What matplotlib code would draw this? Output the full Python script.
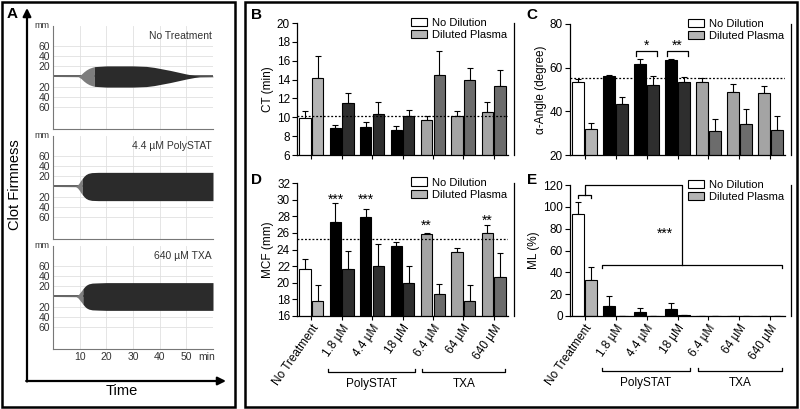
import numpy as np
import matplotlib
matplotlib.use('Agg')
import matplotlib.pyplot as plt
from matplotlib.patches import Rectangle, Patch
from matplotlib.transforms import blended_transform_factory

plt.rcParams['font.family'] = ['Liberation Sans', 'DejaVu Sans']

groups = ['No Treatment', '1.8 µM', '4.4 µM', '18 µM', '6.4 µM', '64 µM', '640 µM']
series = ['No Dilution', 'Diluted Plasma']
families = ['PolySTAT', 'TXA']

# B: CT (min)
ct_nd = [9.9, 8.85, 9.0, 8.7, 9.7, 10.1, 10.6]
ct_nd_err = [0.8, 0.35, 0.45, 0.4, 0.4, 0.6, 1.0]
ct_dp = [14.15, 11.5, 10.3, 10.15, 14.5, 14.0, 13.3]
ct_dp_err = [2.3, 1.05, 1.35, 0.65, 2.55, 1.2, 1.7]
ct_ref = 10.1

# C: alpha angle (degree)
ang_nd = [53.6, 56.2, 61.7, 63.5, 53.3, 49.0, 48.5]
ang_nd_err = [1.2, 0.4, 2.4, 0.3, 1.8, 3.4, 3.1]
ang_dp = [31.8, 43.4, 52.1, 53.6, 31.0, 34.2, 31.5]
ang_dp_err = [2.7, 3.3, 4.1, 2.0, 5.3, 6.7, 6.4]
ang_ref = 55.1

# D: MCF (mm)
mcf_nd = [21.7, 27.3, 27.9, 24.4, 25.9, 23.7, 26.0]
mcf_nd_err = [1.15, 2.3, 1.0, 0.5, 0.1, 0.5, 1.0]
mcf_dp = [17.8, 21.7, 22.0, 20.0, 18.65, 17.8, 20.7]
mcf_dp_err = [1.95, 2.1, 2.7, 2.0, 1.2, 1.95, 2.9]
mcf_ref = 25.25

# E: ML (%)
ml_nd = [93, 9.4, 3.6, 6.3, 0, 0, 0]
ml_nd_err = [11, 8.6, 3.4, 5.2, 0, 0, 0]
ml_dp = [33, 0, 0, 0.5, 0, 0, 0]
ml_dp_err = [12, 0, 0, 0, 0, 0, 0]

# A: ROTEM traces (time in min, half amplitude in mm)
nt_t_light = [0, 9.5, 10.5, 11.5, 12.5, 13.5, 14.5, 15.5]
nt_a_light = [0, 0.5, 4, 9, 13, 16, 18, 19.5]
nt_t_dark = [15.5, 20, 25, 30, 35, 38, 41, 44, 47, 50, 53, 55, 60]
nt_a_dark = [19.5, 21, 21, 21, 20, 18, 15, 12, 8.5, 5, 2, 0.8, 0.5]
ps_t_light = [0, 8.5, 9.2, 9.8, 10.4, 11.0]
ps_a_light = [0, 0.5, 3, 7, 12, 16]
ps_t_dark = [11.0, 11.6, 12.3, 13.2, 14.5, 17, 20, 60]
ps_a_dark = [16, 20, 23.5, 26, 27.5, 28, 28, 28]
tx_t_light = [0, 8.7, 9.4, 10.0, 10.6, 11.2]
tx_a_light = [0, 0.5, 3, 7, 11, 15]
tx_t_dark = [11.2, 11.8, 12.5, 13.4, 14.7, 17, 20, 60]
tx_a_dark = [15, 19, 22.5, 25, 26.5, 27, 27.5, 27.5]
trace_titles = ['No Treatment', '4.4 µM PolySTAT', '640 µM TXA']

nd_colors = ['white', 'black', 'black', 'black', '#a4a4a4', '#a4a4a4', '#a4a4a4']
dp_colors = ['#b4b4b4', '#2e2e2e', '#2e2e2e', '#2e2e2e', '#6c6c6c', '#6c6c6c', '#6c6c6c']

W, H = 800, 409
fig = plt.figure(figsize=(8, 4.09), dpi=100)


def box(l, t, r, b):
    return [l / W, 1 - b / H, (r - l) / W, (b - t) / H]


# overlay in pixel coordinates for frames, arrows and panel letters
ov = fig.add_axes([0, 0, 1, 1])
ov.set_xlim(0, W)
ov.set_ylim(H, 0)
ov.axis('off')
ov.add_patch(Rectangle((2, 2), 233, 405, fill=False, lw=1.8, ec='black'))
ov.add_patch(Rectangle((245, 2), 552, 405, fill=False, lw=1.8, ec='black'))
ov.annotate('', xy=(27, 8), xytext=(27, 381.5),
            arrowprops=dict(arrowstyle='-|>', lw=1.6, color='black', mutation_scale=12, shrinkA=0, shrinkB=0))
ov.annotate('', xy=(226, 381), xytext=(26.2, 381),
            arrowprops=dict(arrowstyle='-|>', lw=1.6, color='black', mutation_scale=12, shrinkA=0, shrinkB=0))
ov.text(15, 185, 'Clot Firmness', rotation=90, ha='center', va='center', fontsize=10.5)
ov.text(122, 391, 'Time', ha='center', va='center', fontsize=10.5)
for letter, (lx, ly) in zip('ABCDE', [(12, 14), (256, 15), (532, 15), (257, 180), (532, 180)]):
    ov.text(lx, ly, letter, ha='center', va='center', fontsize=11, fontweight='bold')

# panel A
traces = [(nt_t_light, nt_a_light, nt_t_dark, nt_a_dark),
          (ps_t_light, ps_a_light, ps_t_dark, ps_a_dark),
          (tx_t_light, tx_a_light, tx_t_dark, tx_a_dark)]
for i, (tl, al, td, ad) in enumerate(traces):
    top = 26 + i * 110
    ax = fig.add_axes(box(53, top, 213, top + 103))
    ax.set_xlim(0, 60)
    ax.set_ylim(-104, 100)
    for gx in [10, 20, 30, 40, 50]:
        ax.axvline(gx, color='#e0e0e0', lw=0.6, zorder=0)
    for gy in [60, 40, 20, -20, -40, -60]:
        ax.axhline(gy, color='#e0e0e0', lw=0.6, zorder=0)
    ax.plot([0, 60], [0, 0], color='#555555', lw=1.3, zorder=1)
    ax.fill_between(tl, -np.array(al), al, color='#7d7d7d', lw=0, zorder=2)
    ax.fill_between(td, -np.array(ad), ad, color='#2b2b2b', lw=0, zorder=2)
    ax.set_yticks([60, 40, 20, -20, -40, -60])
    ax.set_yticklabels(['60', '40', '20', '20', '40', '60'])
    ax.tick_params(length=0, labelsize=7.5, pad=2, colors='#333333')
    for s in ['top', 'right']:
        ax.spines[s].set_visible(False)
    for s in ['left', 'bottom']:
        ax.spines[s].set_color('#777777')
        ax.spines[s].set_linewidth(0.8)
    ax.text(-0.02, 1.0, 'mm', transform=ax.transAxes, ha='right', va='center', fontsize=6.5, color='#333333')
    ax.text(0.99, 0.95, trace_titles[i], transform=ax.transAxes, ha='right', va='top', fontsize=7.5, color='#333333')
    if i < 2:
        ax.set_xticks([])
    else:
        ax.set_xticks([10, 20, 30, 40, 50, 57.5])
        ax.set_xticklabels(['10', '20', '30', '40', '50', 'min'])


def bar_panel(ax, nd, nd_err, dp, dp_err, ylim, yticks, ylabel, ref, xlabels):
    x = np.arange(len(groups))
    w = 0.37
    ax.bar(x - 0.205, nd, w, color=nd_colors, edgecolor='black', linewidth=0.8, zorder=2)
    ax.bar(x + 0.205, dp, w, color=dp_colors, edgecolor='black', linewidth=0.8, zorder=2)
    ax.errorbar(x - 0.205, nd, yerr=[np.zeros(len(x)), nd_err], fmt='none', ecolor='black',
                elinewidth=0.8, capsize=2, capthick=0.8, zorder=1)
    ax.errorbar(x + 0.205, dp, yerr=[np.zeros(len(x)), dp_err], fmt='none', ecolor='black',
                elinewidth=0.8, capsize=2, capthick=0.8, zorder=1)
    if ref is not None:
        ax.axhline(ref, color='black', linestyle=(0, (1.5, 1.5)), lw=0.9, zorder=3)
    ax.set_xlim(-0.47, 6.47)
    ax.set_ylim(*ylim)
    ax.set_yticks(yticks)
    ax.set_ylabel(ylabel, fontsize=8.5, labelpad=2)
    ax.set_xticks(x)
    if xlabels:
        ax.set_xticklabels(groups, rotation=55, ha='right', rotation_mode='anchor', fontsize=8.5)
        tr = blended_transform_factory(ax.transData, ax.transAxes)
        for name, (x0, x1) in zip(families, [(0.55, 3.4), (3.65, 6.38)]):
            ax.plot([x0, x0, x1, x1], [-0.40, -0.42, -0.42, -0.40], transform=tr,
                    color='black', lw=0.9, clip_on=False)
            ax.text((x0 + x1) / 2, -0.51, name, transform=tr, ha='center', va='center', fontsize=8.5)
    else:
        ax.set_xticklabels([])
    ax.tick_params(direction='out', length=3.5, width=0.8, labelsize=8.5, pad=1.5)
    ax.tick_params(axis='x', length=3)
    ax.spines['top'].set_visible(False)
    ax.spines['right'].set_position(('outward', 4))
    for s in ['left', 'bottom', 'right']:
        ax.spines[s].set_linewidth(0.9)
    handles = [Patch(facecolor='white', edgecolor='black', linewidth=0.8),
               Patch(facecolor='#b4b4b4', edgecolor='black', linewidth=0.8)]
    ax.legend(handles, series, loc='upper right', bbox_to_anchor=(1.0, 1.05), frameon=False,
              fontsize=8, handlelength=1.5, handleheight=0.8, handletextpad=0.4,
              labelspacing=0.2, borderaxespad=0, borderpad=0.1)


axB = fig.add_axes(box(297, 23, 508, 155))
bar_panel(axB, ct_nd, ct_nd_err, ct_dp, ct_dp_err, (6, 20), range(6, 21, 2), 'CT (min)', ct_ref, False)

axC = fig.add_axes(box(570, 24, 785, 155))
bar_panel(axC, ang_nd, ang_nd_err, ang_dp, ang_dp_err, (20, 80), range(20, 81, 20),
          'α-Angle (degree)', ang_ref, False)
for g, mark in [(2, '*'), (3, '**')]:
    axC.plot([g - 0.35, g - 0.35, g + 0.35, g + 0.35], [65.5, 67.8, 67.8, 65.5], color='black', lw=0.9)
    axC.text(g, 70, mark, ha='center', va='center', fontsize=10)

axD = fig.add_axes(box(297, 183, 508, 316))
bar_panel(axD, mcf_nd, mcf_nd_err, mcf_dp, mcf_dp_err, (16, 32), range(16, 33, 2), 'MCF (mm)', mcf_ref, True)
for g, mark, yy in [(1, '***', 30.0), (2, '***', 30.0), (4, '**', 26.8), (6, '**', 27.4)]:
    axD.text(g - 0.205, yy, mark, ha='center', va='center', fontsize=10)

axE = fig.add_axes(box(570, 185, 785, 316))
bar_panel(axE, ml_nd, ml_nd_err, ml_dp, ml_dp_err, (0, 120), range(0, 121, 20), 'ML (%)', None, True)
axE.plot([-0.22, -0.22, 0.22, 0.22], [108, 111, 111, 108], color='black', lw=0.9, clip_on=False)
axE.plot([0, 0, 3.14, 3.14], [111, 120, 120, 47], color='black', lw=0.9, clip_on=False)
axE.plot([0.55, 0.55, 6.36, 6.36], [44, 47, 47, 44], color='black', lw=0.9, clip_on=False)
axE.text(2.58, 75, '***', ha='center', va='center', fontsize=10)

fig.savefig('out.png', dpi=100)
